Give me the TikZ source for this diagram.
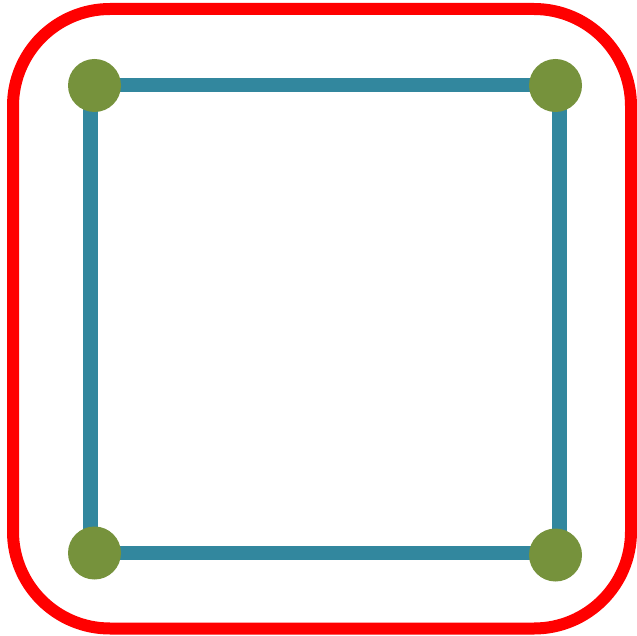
\documentclass[tikz,border=0pt]{standalone}
\usepackage{xcolor}
\definecolor{frameRed}{HTML}{FF0000}
\definecolor{edgeBlue}{HTML}{32879E}
\definecolor{dotGreen}{HTML}{76923C}
\begin{document}
\begin{tikzpicture}[
    x=1pt, y=-1pt,
    frame_line/.style={draw=frameRed, line width=12pt, rounded corners=97pt},
    edge_line/.style={draw=edgeBlue, line width=14.5pt},
    dot_node/.style={circle, fill=dotGreen, minimum size=53pt, inner sep=0pt},
    ]

    % --- Fix the picture size ---
    \useasboundingbox (0,0) rectangle (637,636);

    % --- Outer rounded frame ---
    \draw[frame_line] (13,9) rectangle (631,628.5);

    % --- Corners of the square ---
    \coordinate (sq_tl) at (90.5,85);
    \coordinate (sq_tr) at (559.5,85);
    \coordinate (sq_br) at (559.5,553);
    \coordinate (sq_bl) at (90.5,553);

    % --- Edges of the square ---
    \draw[edge_line] (sq_tl) -- (sq_tr) -- (sq_br) -- (sq_bl) -- cycle;

    % --- Corner dots ---
    \node[dot_node] (dot_tl) at (94.5,85.5) {};
    \node[dot_node] (dot_tr) at (555.5,85.5) {};
    \node[dot_node] (dot_br) at (555.5,555) {};
    \node[dot_node] (dot_bl) at (94.5,553) {};

\end{tikzpicture}
\end{document}
